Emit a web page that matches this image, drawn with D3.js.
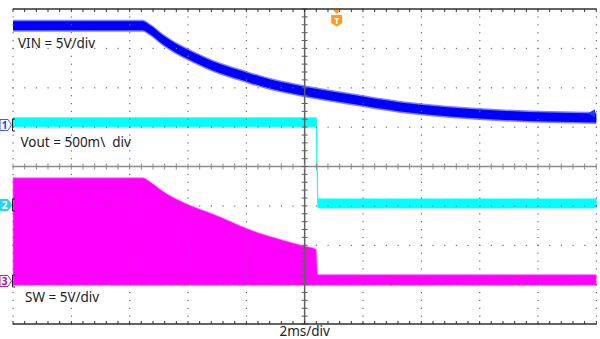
<!DOCTYPE html>
<html>
<head>
<meta charset="utf-8">
<script src="https://cdn.jsdelivr.net/npm/d3@7"></script>
<style>
  html, body { margin: 0; padding: 0; background: #ffffff; }
  svg { display: block; }
  text { font-family: "Noto Sans", "DejaVu Sans", sans-serif; }
</style>
</head>
<body>
<div id="chart"></div>
<script>
// ---------------- DATA (time in ms, values in volts) ----------------
const vinTime  = [0, 4.45, 4.7, 5.15, 5.97, 6.86, 7.79, 8.13, 8.82, 9.98, 11.56, 13.28, 14.99, 16.71, 18.4, 20];
const vinVolts = [12.6, 12.6, 12.1, 10.8, 9.0, 7.5, 6.35, 5.95, 5.2, 4.3, 3.3, 2.3, 1.65, 1.25, 1.0, 0.9];

const voutTime  = [0, 10.40, 10.45, 20];
const voutVolts = [1.05, 1.05, 0.02, 0.02];

const swTime    = [0, 4.45, 4.7, 5.14, 5.83, 6.86, 7.44, 8.13, 9.15, 9.98, 10.39, 10.45, 20];
const swHigh    = [13.1, 13.1, 12.6, 11.4, 10.0, 8.5, 7.6, 6.5, 5.3, 4.45, 4.05, 0.8, 0.8];
const swLow     = -0.55;

const channelNames  = ["VIN", "Vout", "SW"];
const channelScales = [5, 0.5, 5];             // volts per division
const channelOffset = [1.054, -0.978, -2.908]; // ground level, in divisions from centre
const channelLabels = ["VIN = 5V/div", "Vout = 500m\\\u00a0\u00a0div", "SW = 5V/div"];
const timebaseLabel = "2ms/div";

// ---------------- LAYOUT ----------------
(function () {
const W = 600, H = 339;
const pLeft = 13, pRight = 596.3, pTop = 9, pBottom = 324;

const svg = d3.select("#chart").append("svg").attr("width", W).attr("height", H);

const x = d3.scaleLinear().domain([0, 20]).range([pLeft, pRight]);
const yDiv = d3.scaleLinear().domain([-4, 4]).range([pBottom, pTop]);
const divPx = (pBottom - pTop) / 8;
const yCh = (ch, v) => yDiv(channelOffset[ch] + v / channelScales[ch]);

// ---------------- TRACES ----------------
function band(ch, times, vals, halfPx) {
  return d3.area()
    .x((d, i) => x(times[i]))
    .y0((d, i) => yCh(ch, vals[i]) + halfPx)
    .y1((d, i) => yCh(ch, vals[i]) - halfPx)
    .curve(d3.curveMonotoneX)(vals);
}

// SW (filled switching envelope)
const swArea = d3.area()
  .x((d, i) => x(swTime[i]))
  .y0(() => yCh(2, swLow))
  .y1((d, i) => yCh(2, swHigh[i]))
  .curve(d3.curveMonotoneX);
svg.append("path").attr("d", swArea(swHigh)).attr("fill", "#ff00ff");
svg.append("path").attr("d", swArea(swHigh)).attr("fill", "none")
  .attr("stroke", "#ff66ff").attr("stroke-width", 1).attr("opacity", 0.7);

// VIN
svg.append("path").attr("d", band(0, vinTime, vinVolts, 6)).attr("fill", "#7f7fff");
svg.append("path").attr("d", band(0, vinTime, vinVolts, 4.5)).attr("fill", "#0000ff");

// Vout
const voutArea = d3.area()
  .x((d, i) => x(voutTime[i]))
  .y0((d, i) => yCh(1, voutVolts[i]) + 4.5)
  .y1((d, i) => yCh(1, voutVolts[i]) - 4.5)
  .curve(d3.curveLinear);
svg.append("path").attr("d", voutArea(voutVolts)).attr("fill", "#00ffff")
  .attr("stroke", "#00ffff").attr("stroke-width", 0.8);

// ---------------- GRATICULE ----------------
const g = svg.append("g");
const subX = d3.range(0, 50.001, 1).map(i => pLeft + i * (pRight - pLeft) / 50);
const subY = d3.range(0, 40.001, 1).map(i => pTop + i * divPx / 5);
const gridColor = "#707070";

for (let i = 0; i <= 10; i++) {
  if (i === 5) continue;
  const xx = pLeft + i * (pRight - pLeft) / 10;
  subY.forEach(yy => g.append("rect").attr("x", xx - 0.5).attr("y", yy - 0.5)
    .attr("width", 1.2).attr("height", 1.2).attr("fill", gridColor));
}
for (let j = 1; j <= 7; j++) {
  if (j === 4) continue;
  const yy = pTop + j * divPx;
  subX.forEach(xx => g.append("rect").attr("x", xx - 0.5).attr("y", yy - 0.5)
    .attr("width", 1.2).attr("height", 1.2).attr("fill", gridColor));
}
const cx = (pLeft + pRight) / 2, cy = (pTop + pBottom) / 2;
g.append("line").attr("x1", pLeft).attr("x2", pRight).attr("y1", cy).attr("y2", cy)
  .attr("stroke", "#8a8a8a").attr("stroke-width", 1.5);
g.append("line").attr("x1", cx).attr("x2", cx).attr("y1", pTop).attr("y2", pBottom)
  .attr("stroke", "#606060").attr("stroke-width", 1.5);
subX.forEach(xx => g.append("line").attr("x1", xx).attr("x2", xx)
  .attr("y1", cy - 3).attr("y2", cy + 3).attr("stroke", "#8a8a8a").attr("stroke-width", 1));
subY.forEach(yy => g.append("line").attr("x1", cx - 3).attr("x2", cx + 3)
  .attr("y1", yy).attr("y2", yy).attr("stroke", "#606060").attr("stroke-width", 1));
[pTop, pBottom].forEach((yy, k) => {
  g.append("line").attr("x1", pLeft).attr("x2", pRight).attr("y1", yy).attr("y2", yy)
    .attr("stroke", "#303030").attr("stroke-width", 1.5);
  subX.forEach(xx => g.append("line").attr("x1", xx).attr("x2", xx)
    .attr("y1", yy).attr("y2", k === 0 ? yy + 3 : yy - 3)
    .attr("stroke", "#303030").attr("stroke-width", 1));
});

// ---------------- LABELS ----------------
const labelPos = [[18, 47.5], [20.5, 146.5], [25, 302]];
channelLabels.forEach((t, i) => {
  svg.append("text").attr("x", labelPos[i][0]).attr("y", labelPos[i][1])
    .attr("font-size", 13.5).attr("fill", "#222").style("white-space", "pre").text(t);
});
svg.append("text").attr("x", cx).attr("y", 336).attr("text-anchor", "middle")
  .attr("font-size", 13.5).attr("fill", "#222").text(timebaseLabel);

// ---------------- CHANNEL MARKERS ----------------
const markerStyle = [
  { fill: "#ffffff", stroke: "#3a5cff", text: "#2a3cff" },
  { fill: "#22d8e6", stroke: "#22d8e6", text: "#ffffff" },
  { fill: "#ffffff", stroke: "#c020c0", text: "#a010a0" }
];
[0, 1, 2].forEach(ch => {
  const yy = yDiv(channelOffset[ch]);
  const s = markerStyle[ch];
  svg.append("path")
    .attr("d", `M0,${yy - 5.5} L8,${yy - 5.5} L11.5,${yy} L8,${yy + 5.5} L0,${yy + 5.5} Z`)
    .attr("fill", s.fill).attr("stroke", s.stroke).attr("stroke-width", 1);
  svg.append("text").attr("x", 4.5).attr("y", yy + 3.8).attr("text-anchor", "middle")
    .attr("font-size", 10).attr("font-weight", "bold").attr("fill", s.text).text(String(ch + 1));
  svg.append("path").attr("d", `M15,${yy - 6} H12.5 V${yy + 6} H15`)
    .attr("fill", "none").attr("stroke", "#202020").attr("stroke-width", 1);
});

// trigger marker (time position)
const trigT = 11.1;
const tx = x(trigT);
svg.append("path").attr("d", `M${tx - 3.5},10 L${tx + 3.5},10 L${tx},14 Z`).attr("fill", "#ff9a1a");
svg.append("path")
  .attr("d", `M${tx - 5.5},15 H${tx + 5.5} V23 L${tx},26.5 L${tx - 5.5},23 Z`)
  .attr("fill", "#ff9a1a");
svg.append("text").attr("x", tx).attr("y", 23.5).attr("text-anchor", "middle")
  .attr("font-size", 9).attr("font-weight", "bold").attr("fill", "#ffffff").text("T");

// trigger level arrow (right side)
const trigLevelY = yCh(0, 1.5);
svg.append("path")
  .attr("d", `M588,${trigLevelY} L595,${trigLevelY - 4} L595,${trigLevelY + 4} Z`)
  .attr("fill", "#1a3cff");
})();
</script>
</body>
</html>
